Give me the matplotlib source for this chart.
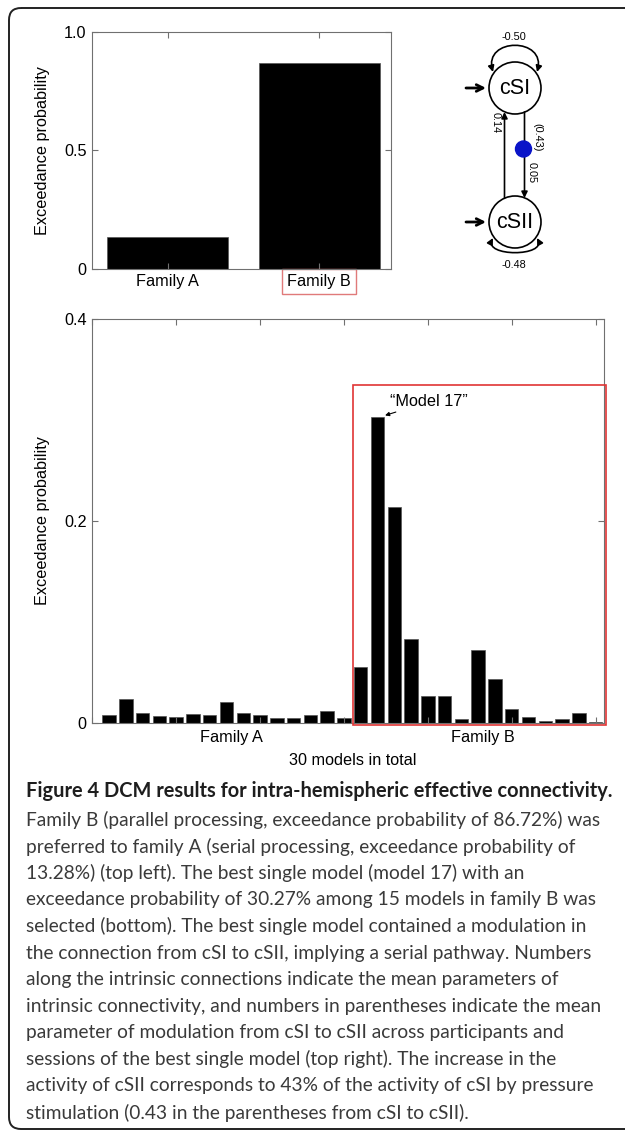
import matplotlib
matplotlib.use("Agg")
import matplotlib.pyplot as plt
from matplotlib.patches import Rectangle, Circle, FancyArrowPatch, FancyBboxPatch
from matplotlib.path import Path

# family level exceedance probabilities (top left)
families = ["Family A", "Family B"]
family_prob = [0.1328, 0.8672]

# single model exceedance probabilities, models 1-30 (bottom)
model_prob = [0.0079, 0.0238, 0.0099, 0.0063, 0.0053, 0.0086, 0.0073, 0.0205,
              0.0099, 0.0079, 0.0043, 0.0043, 0.0079, 0.0112, 0.0050,
              0.0555, 0.3027, 0.2142, 0.0833, 0.0264, 0.0264, 0.0033, 0.0724,
              0.0430, 0.0132, 0.0056, 0.0013, 0.0033, 0.0099, 0.0010]
best_model = 17

# DCM parameters (top right)
nodes = ["cSI", "cSII"]
self_conn = ["-0.50", "-0.48"]
conn_up = "0.14"
conn_down = "0.05"
modulation = "(0.43)"

caption_title = "Figure 4 DCM results for intra-hemispheric effective connectivity."
caption_lines = [
    "Family B (parallel processing, exceedance probability of 86.72%) was",
    "preferred to family A (serial processing, exceedance probability of",
    "13.28%) (top left). The best single model (model 17) with an",
    "exceedance probability of 30.27% among 15 models in family B was",
    "selected (bottom). The best single model contained a modulation in",
    "the connection from cSI to cSII, implying a serial pathway. Numbers",
    "along the intrinsic connections indicate the mean parameters of",
    "intrinsic connectivity, and numbers in parentheses indicate the mean",
    "parameter of modulation from cSI to cSII across participants and",
    "sessions of the best single model (top right). The increase in the",
    "activity of cSII corresponds to 43% of the activity of cSI by pressure",
    "stimulation (0.43 in the parentheses from cSI to cSII).",
]

plt.rcParams['font.family'] = ['Liberation Sans', 'DejaVu Sans']
fs = 11.7
spine_col = '#707070'

fig = plt.figure(figsize=(6.25, 11.31), dpi=100)

# overlay in pixel coordinates for frame, diagram and caption
ov = fig.add_axes([0, 0, 1, 1])
ov.set_xlim(0, 625)
ov.set_ylim(1131, 0)
ov.axis('off')
ov.add_patch(FancyBboxPatch((9, 8), 660, 1121, boxstyle="round,pad=0,rounding_size=12",
                            fc='none', ec='#222222', lw=1.4))


def style_axes(ax):
    for s in ax.spines.values():
        s.set_color(spine_col)
        s.set_linewidth(0.8)
    ax.tick_params(direction='in', length=4, width=0.8, color=spine_col,
                   labelsize=fs, top=True, right=True, pad=4)


# ---- top left: family comparison
ax1 = fig.add_axes([0.1472, 0.7624, 0.4784, 0.2093])
ax1.bar([1, 2], family_prob, width=0.8, color='black', edgecolor='#555555', lw=0.5)
ax1.set_xlim(0.5, 2.475)
ax1.set_ylim(0, 1)
ax1.set_yticks([0, 0.5, 1.0], ['0', '0.5', '1.0'])
ax1.set_xticks([1, 2], families)
style_axes(ax1)
ax1.set_ylabel("Exceedance probability", fontsize=fs)
ax1.yaxis.set_label_coords(-0.140, 0.5)
lab = ax1.get_xticklabels()[1]
lab.set_bbox(dict(boxstyle='square,pad=0.3', fc='white', ec='#e07a7a', lw=1))

# ---- bottom: single models
x = list(range(1, len(model_prob) + 1))
ax2 = fig.add_axes([0.1477, 0.361, 0.8187, 0.3567])
ax2.bar(x, model_prob, width=0.8, color='black', edgecolor='#555555', lw=0.5)
ax2.set_xlim(0.5, 30.5)
ax2.set_ylim(0, 0.4)
ax2.set_yticks([0, 0.2, 0.4], ['0', '0.2', '0.4'])
ax2.set_xticks(range(0, 31, 5), [])
style_axes(ax2)
ax2.set_ylabel("Exceedance probability", fontsize=fs)
ax2.yaxis.set_label_coords(-0.0827, 0.5)
ax2.text(8.3, -0.0075, families[0], ha='center', va='top', fontsize=fs)
ax2.text(23.3, -0.0075, families[1], ha='center', va='top', fontsize=fs)
ax2.text(15.5, -0.0305, "30 models in total", ha='center', va='top', fontsize=fs)
ax2.add_patch(Rectangle((15.52, -0.0026), 15.08, 0.3372, fill=False,
                        ec='#e03535', lw=1.2, clip_on=False, zorder=5))
ax2.annotate("\u201cModel 17\u201d", xy=(best_model + 0.45, model_prob[best_model - 1] + 0.002),
             xytext=(best_model + 0.75, model_prob[best_model - 1] + 0.0155),
             fontsize=fs, ha='left', va='center',
             arrowprops=dict(arrowstyle='-|>', lw=0.8, color='black',
                             mutation_scale=6, shrinkA=0, shrinkB=0))

# ---- top right: DCM diagram
cx = 515
cy = [88, 222]
r = 26
for name, yy in zip(nodes, cy):
    ov.add_patch(Circle((cx, yy), r, fc='white', ec='black', lw=1.2))
    ov.text(cx, yy + 1, name, ha='center', va='center', fontsize=15.5)
    ov.add_patch(FancyArrowPatch((466, yy), (486, yy), arrowstyle='->', lw=2,
                                 mutation_scale=12, color='black', shrinkA=0, shrinkB=0))

# self connections
loop_top = Path([(493, 72), (483, 37), (547, 37), (537, 72)],
                [Path.MOVETO, Path.CURVE4, Path.CURVE4, Path.CURVE4])
loop_bot = Path([(493, 238), (483, 257), (547, 257), (537, 238)],
                [Path.MOVETO, Path.CURVE4, Path.CURVE4, Path.CURVE4])
for p in (loop_top, loop_bot):
    ov.add_patch(FancyArrowPatch(path=p, arrowstyle='<|-|>', lw=1.2,
                                 mutation_scale=9, color='black'))
ov.text(514, 37, self_conn[0], ha='center', va='center', fontsize=7.8)
ov.text(514, 265, self_conn[1], ha='center', va='center', fontsize=7.8)

# connections between regions
ov.add_patch(FancyArrowPatch((504.5, 198), (504.5, 112), arrowstyle='-|>', lw=1.2,
                             mutation_scale=9, color='black', shrinkA=0, shrinkB=0))
ov.add_patch(FancyArrowPatch((524.5, 112), (524.5, 198), arrowstyle='-|>', lw=1.2,
                             mutation_scale=9, color='black', shrinkA=0, shrinkB=0))
ov.add_patch(Circle((523.5, 149), 8, fc='#0a14c8', ec='#0a14c8', zorder=4))
ov.text(496, 123, conn_up, ha='center', va='center', fontsize=7.8, rotation=-90)
ov.text(537, 137, modulation, ha='center', va='center', fontsize=7.8, rotation=-90)
ov.text(531.5, 173, conn_down, ha='center', va='center', fontsize=7.8, rotation=-90)

# ---- caption
ov.text(26, 791, caption_title, ha='left', va='center', fontsize=14.4,
        family='Lato', fontweight='bold', color='#1e1e1e')
for i, line in enumerate(caption_lines):
    ov.text(26, 820 + i * 26.6, line, ha='left', va='center', fontsize=13.8,
            family='Lato', color='#3a3a3a')

fig.savefig("out.png", dpi=100)
